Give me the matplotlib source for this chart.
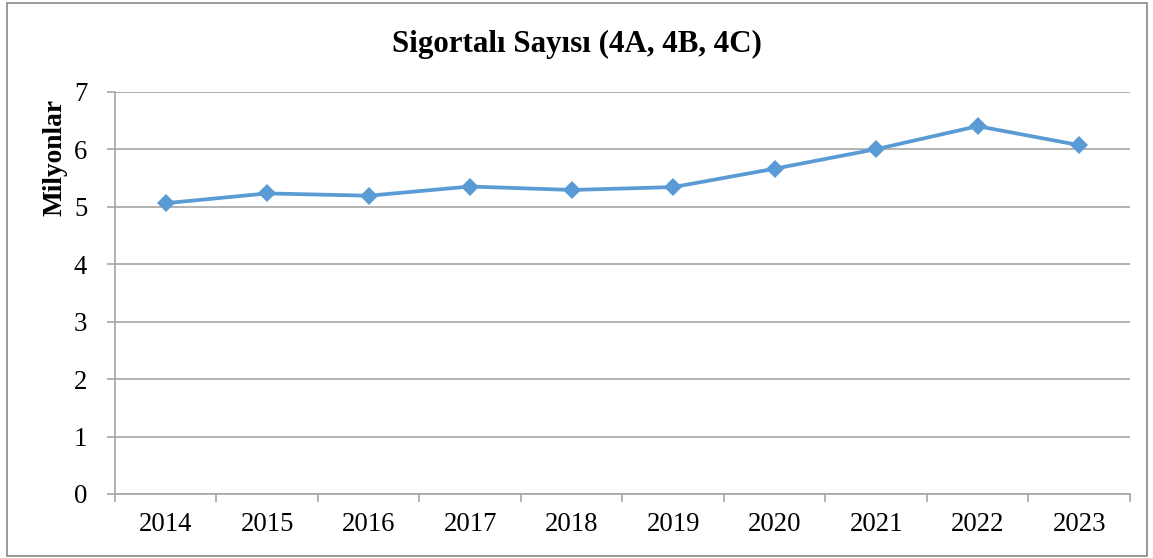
import matplotlib
matplotlib.use("Agg")
import matplotlib.pyplot as plt
from matplotlib.patches import Rectangle

years = ["2014", "2015", "2016", "2017", "2018", "2019", "2020", "2021", "2022", "2023"]
insured = [5.06, 5.23, 5.19, 5.35, 5.29, 5.34, 5.66, 6.00, 6.40, 6.07]

plt.rcParams['font.family'] = ['Liberation Serif', 'DejaVu Serif']
grey = '#A6A6A6'

fig = plt.figure(figsize=(11.53, 5.58), dpi=100)
ax = fig.add_axes([0.0997, 0.1147, 0.8803, 0.721])

x = list(range(len(years)))
ax.plot(x, insured, color='#5B9BD5', linewidth=2.7, marker='D', markersize=9.5,
        markeredgewidth=0, zorder=3)

ax.set_xlim(-0.5, len(years) - 0.5)
ax.set_ylim(0, 7)
ax.set_yticks(range(0, 8))
ax.grid(axis='y', color=grey, linewidth=1.2)
ax.set_axisbelow(True)

ax.set_xticks(x)
ax.set_xticklabels(years)
ax.set_xticks([i - 0.5 for i in range(len(years) + 1)], minor=True)
ax.tick_params(axis='x', which='major', length=0, pad=13, labelsize=19.3)
ax.tick_params(axis='x', which='minor', length=6, width=1.2, color=grey, direction='out')
ax.tick_params(axis='y', length=6, width=1.2, color=grey, pad=14, labelsize=19.3)

for s in ['top', 'right']:
    ax.spines[s].set_visible(False)
for s in ['left', 'bottom']:
    ax.spines[s].set_color(grey)
    ax.spines[s].set_linewidth(1.2)

# axis title sits near the top, as in the original chart
fig.text(55 / 1153, 1 - 158 / 558, 'Milyonlar', rotation=90, ha='center', va='center',
         fontsize=19.7, fontweight='bold')
fig.text(0.5, 1 - 44 / 558, 'Sigortalı Sayısı (4A, 4B, 4C)', ha='center', va='center',
         fontsize=22.3, fontweight='bold')

# outer chart border
fig.patches.append(Rectangle((7 / 1153, 2 / 558), 1140 / 1153, 553 / 558,
                             transform=fig.transFigure, fill=False,
                             edgecolor='#888888', linewidth=1.2))

fig.savefig('out.png', dpi=100)
